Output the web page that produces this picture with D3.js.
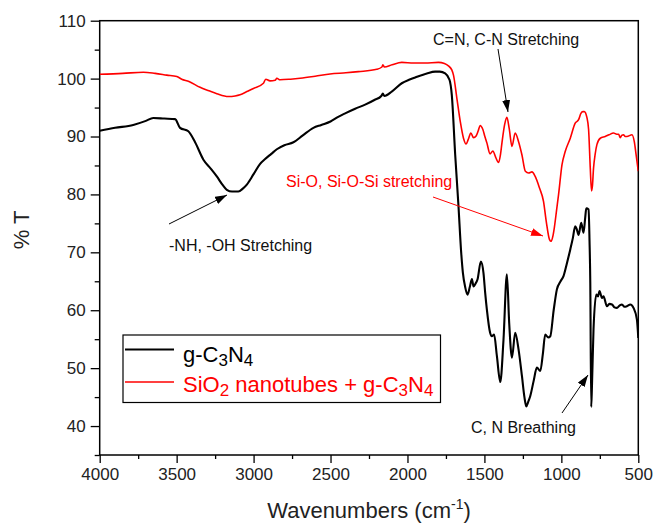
<!DOCTYPE html>
<html>
<head>
<meta charset="utf-8">
<script src="https://cdn.jsdelivr.net/npm/d3@7"></script>
<style>
  html, body { margin: 0; padding: 0; background: #fff; }
  svg { display: block; font-family: "Liberation Sans", Arial, Helvetica, sans-serif; }
</style>
</head>
<body>
<svg id="chart" width="655" height="523"></svg>
<script>
// FTIR spectra: wavenumber (cm^-1) vs transmittance (%T)
const gcnSpectrum = [
  [4000,91.0],[3900,91.5],[3782,92.0],[3700,92.7],[3652,93.2],[3580,93.1],[3510,93.0],[3478,91.5],
  [3424,90.9],[3380,89.0],[3326,86.0],[3280,84.5],[3239,83.1],[3200,81.6],[3174,80.8],[3140,80.5],
  [3099,80.5],[3070,81.0],[3044,81.7],[3000,83.5],[2960,85.2],[2925,86.1],[2885,87.0],[2849,87.8],
  [2800,88.5],[2741,89.0],[2680,90.2],[2611,91.5],[2560,92.0],[2500,92.6],[2450,93.4],[2405,94.0],
  [2340,94.8],[2275,95.5],[2215,96.3],[2170,97.0],[2160,97.4],[2150,97.0],[2100,97.8],[2037,99.2],
  [1990,99.8],[1950,100.2],[1874,100.9],[1820,101.2],[1790,101.2],[1755,100.9],[1727,99.8],[1712,97.2],
  [1690,86.9],[1669,78.2],[1651,70.0],[1640,66.5],[1625,64.0],[1610,62.7],[1595,64.0],[1581,65.4],
  [1571,64.1],[1560,64.5],[1545,65.3],[1523,68.4],[1506,66.4],[1495,63.0],[1484,60.1],[1463,56.1],
  [1452,55.5],[1437,55.8],[1419,52.1],[1397,47.6],[1376,54.9],[1354,66.2],[1339,57.8],[1321,51.8],
  [1300,56.1],[1278,53.2],[1256,48.6],[1240,45.0],[1228,43.4],[1215,44.2],[1202,45.2],[1180,47.8],
  [1159,50.1],[1137,49.5],[1120,52.5],[1105,55.8],[1085,55.3],[1072,55.5],[1050,60.0],[1029,63.6],
  [1005,65.0],[986,65.9],[965,68.0],[942,70.5],[925,72.5],[910,74.5],[900,74.0],[888,73.0],
  [871,75.1],[856,73.4],[845,76.0],[838,77.6],[823,77.4],[817,72.0],[812,64.7],[806,43.3],
  [801,47.0],[791,56.7],[773,62.7],[762,62.4],[752,63.3],[736,62.1],[726,62.4],[704,60.7],
  [688,61.1],[671,61.0],[655,60.5],[639,60.4],[622,60.8],[606,61.0],[590,60.6],[574,60.7],
  [552,61.0],[531,60.4],[509,58.4],[500,55.2]
];

const sioGcnSpectrum = [
  [4000,100.75],[3850,100.9],[3716,101.1],[3640,100.9],[3564,100.6],[3499,100.35],[3467,99.9],[3420,99.5],
  [3348,98.5],[3290,97.9],[3239,97.4],[3164,96.9],[3120,97.0],[3088,97.2],[3040,97.8],[3001,98.3],
  [2936,99.2],[2921,99.9],[2893,99.6],[2860,99.7],[2849,100.05],[2828,99.8],[2760,99.9],[2698,100.05],
  [2600,100.4],[2503,100.8],[2400,101.0],[2319,101.2],[2200,101.6],[2166,102.0],[2160,102.4],[2150,102.0],
  [2100,102.4],[2037,102.8],[1960,102.7],[1885,102.7],[1799,102.8],[1760,102.6],[1734,102.2],[1712,101.5],
  [1701,100.6],[1679,96.6],[1657,92.6],[1636,89.7],[1619,88.7],[1605,89.5],[1588,90.6],[1571,89.8],
  [1554,90.1],[1540,91.0],[1528,91.9],[1510,91.2],[1497,90.0],[1484,88.9],[1463,87.0],[1445,87.5],
  [1428,86.5],[1408,85.5],[1395,87.0],[1386,88.9],[1369,92.0],[1354,93.3],[1339,91.4],[1321,88.3],
  [1300,90.6],[1278,89.1],[1256,86.8],[1234,84.0],[1213,83.7],[1191,83.9],[1170,83.1],[1142,81.1],
  [1116,78.8],[1098,75.3],[1077,72.2],[1066,71.9],[1055,72.8],[1046,74.2],[1030,77.5],[1018,80.0],
  [996,85.1],[975,87.4],[942,89.7],[910,92.3],[888,92.9],[873,94.0],[860,94.3],[851,94.3],
  [834,93.3],[823,91.2],[812,84.5],[804,80.6],[798,81.5],[791,84.5],[780,87.0],[769,88.6],
  [747,89.7],[715,90.0],[690,90.3],[661,90.6],[640,90.4],[628,90.4],[617,89.8],[608,90.2],
  [596,90.3],[585,90.0],[574,90.0],[541,90.3],[526,89.1],[515,87.0],[500,84.0]
];

const xTicks = [4000, 3500, 3000, 2500, 2000, 1500, 1000, 500];
const xMinorTicks = [3750, 3250, 2750, 2250, 1750, 1250, 750];
const yTicks = [40, 50, 60, 70, 80, 90, 100, 110];
const yMinorTicks = [35, 45, 55, 65, 75, 85, 95, 105];

const svg = d3.select("#chart");
const plot = { left: 99.7, right: 638.3, top: 20.7, bottom: 455 };

const x = d3.scaleLinear().domain([4000, 500]).range([plot.left, plot.right]);
const y = d3.scaleLinear().domain([35, 110]).range([plot.bottom, plot.top]);

// clip region for spectra
const defs = svg.append("defs");
defs.append("clipPath").attr("id", "plotClip")
  .append("rect")
  .attr("x", plot.left).attr("y", plot.top)
  .attr("width", plot.right - plot.left).attr("height", plot.bottom - plot.top);

function arrowMarker(id, color) {
  defs.append("marker")
    .attr("id", id)
    .attr("viewBox", "0 0 12 8")
    .attr("refX", 12).attr("refY", 4)
    .attr("markerWidth", 12).attr("markerHeight", 8)
    .attr("markerUnits", "userSpaceOnUse")
    .attr("orient", "auto")
    .append("path")
    .attr("d", "M0,0 L12,4 L0,8 Z")
    .attr("fill", color);
}
arrowMarker("arrowBlack", "#000");
arrowMarker("arrowRed", "#ff0000");

// axes
const fontTick = 17;
const xAxisMajor = d3.axisBottom(x).tickValues(xTicks).tickSize(8).tickSizeOuter(0).tickPadding(5)
  .tickFormat(d3.format("d"));
const xAxisMinor = d3.axisBottom(x).tickValues(xMinorTicks).tickSize(4).tickFormat("");
const yAxisMajor = d3.axisLeft(y).tickValues(yTicks).tickSize(9).tickSizeOuter(0).tickPadding(5)
  .tickFormat(d3.format("d"));
const yAxisMinor = d3.axisLeft(y).tickValues(yMinorTicks).tickSize(5).tickFormat("");

function styleAxis(g) {
  g.selectAll("path.domain").remove();
  g.selectAll("line").attr("stroke", "#000").attr("stroke-width", 1.3);
  g.selectAll("text").attr("fill", "#222").style("font-size", fontTick + "px")
    .style("font-family", "'Liberation Sans', Arial, sans-serif");
}

svg.append("g").attr("transform", `translate(0,${plot.bottom})`).call(xAxisMajor).call(styleAxis);
svg.append("g").attr("transform", `translate(0,${plot.bottom})`).call(xAxisMinor).call(styleAxis);
svg.append("g").attr("transform", `translate(${plot.left},0)`).call(yAxisMajor).call(styleAxis);
svg.append("g").attr("transform", `translate(${plot.left},0)`).call(yAxisMinor).call(styleAxis);

// frame
svg.append("rect")
  .attr("x", plot.left).attr("y", plot.top)
  .attr("width", plot.right - plot.left).attr("height", plot.bottom - plot.top)
  .attr("fill", "none").attr("stroke", "#000").attr("stroke-width", 1.5);

// spectra
const line = d3.line()
  .x(d => x(d[0]))
  .y(d => y(d[1]))
  .curve(d3.curveMonotoneX);

const curves = svg.append("g").attr("clip-path", "url(#plotClip)");
curves.append("path").datum(sioGcnSpectrum)
  .attr("d", line).attr("fill", "none").attr("stroke", "#ff0000")
  .attr("stroke-width", 1.6).attr("stroke-linejoin", "round");
curves.append("path").datum(gcnSpectrum)
  .attr("d", line).attr("fill", "none").attr("stroke", "#000")
  .attr("stroke-width", 2.1).attr("stroke-linejoin", "round");

// axis titles
const xTitle = svg.append("text")
  .attr("x", (plot.left + plot.right) / 2).attr("y", 517.5)
  .attr("text-anchor", "middle").attr("fill", "#222")
  .style("font-size", "22px");
xTitle.append("tspan").text("Wavenumbers (cm");
xTitle.append("tspan").attr("dy", -9).style("font-size", "14px").text("-1");
xTitle.append("tspan").attr("dy", 9).text(")");

svg.append("text")
  .attr("transform", `translate(29,230) rotate(-90)`)
  .attr("text-anchor", "middle").attr("fill", "#222")
  .style("font-size", "22px")
  .text("% T");

// annotations
const annFont = "16px";
svg.append("text").attr("x", 169).attr("y", 250.5).attr("fill", "#111")
  .style("font-size", annFont).text("-NH, -OH Stretching");
svg.append("line").attr("x1", 169).attr("y1", 224).attr("x2", 227).attr("y2", 195)
  .attr("stroke", "#000").attr("stroke-width", 1).attr("marker-end", "url(#arrowBlack)");

svg.append("text").attr("x", 433).attr("y", 45).attr("fill", "#111")
  .style("font-size", annFont).text("C=N, C-N Stretching");
svg.append("line").attr("x1", 498).attr("y1", 49).attr("x2", 508).attr("y2", 112)
  .attr("stroke", "#000").attr("stroke-width", 1).attr("marker-end", "url(#arrowBlack)");

svg.append("text").attr("x", 286).attr("y", 186.5).attr("fill", "#ff0000")
  .style("font-size", annFont).text("Si-O, Si-O-Si stretching");
svg.append("line").attr("x1", 433).attr("y1", 197).attr("x2", 543).attr("y2", 236)
  .attr("stroke", "#ff0000").attr("stroke-width", 1).attr("marker-end", "url(#arrowRed)");

svg.append("text").attr("x", 471).attr("y", 432.5).attr("fill", "#111")
  .style("font-size", annFont).text("C, N Breathing");
svg.append("line").attr("x1", 562).attr("y1", 413).attr("x2", 588).attr("y2", 375)
  .attr("stroke", "#000").attr("stroke-width", 1).attr("marker-end", "url(#arrowBlack)");

// legend
const legend = svg.append("g");
legend.append("rect")
  .attr("x", 123).attr("y", 335).attr("width", 317.5).attr("height", 67.5)
  .attr("fill", "#fff").attr("stroke", "#000").attr("stroke-width", 1.2);

const legendItems = [
  { color: "#000", width: 2.1, y: 349.5, base: 361.7, parts: [["g-C", 0], ["3", 1], ["N", 0], ["4", 1]] },
  { color: "#ff0000", width: 1.6, y: 382, base: 391.7, parts: [["SiO", 0], ["2", 1], [" nanotubes + g-C", 0], ["3", 1], ["N", 0], ["4", 1]] }
];
legendItems.forEach(item => {
  legend.append("line")
    .attr("x1", 125).attr("x2", 174).attr("y1", item.y).attr("y2", item.y)
    .attr("stroke", item.color).attr("stroke-width", item.width);
  const t = legend.append("text")
    .attr("x", 183).attr("y", item.base)
    .attr("fill", item.color).style("font-size", "22px")
    .style("white-space", "pre");
  let shifted = false;
  item.parts.forEach(([txt, sub]) => {
    const ts = t.append("tspan").text(txt);
    if (sub && !shifted) { ts.attr("dy", 4).style("font-size", "17px"); shifted = true; }
    else if (!sub && shifted) { ts.attr("dy", -4); shifted = false; }
    else if (sub) { ts.style("font-size", "17px"); }
  });
});
</script>
</body>
</html>
